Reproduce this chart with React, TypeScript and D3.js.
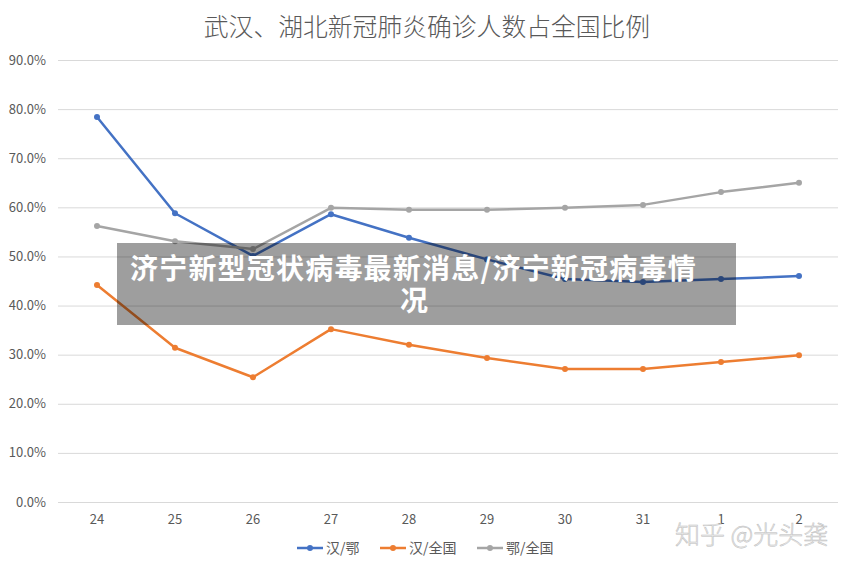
import React, { useRef, useEffect } from "react";
import * as d3 from "d3";

// x categories (dates, Jan 24 .. Feb 2)
const days = ["24", "25", "26", "27", "28", "29", "30", "31", "1", "2"];

// ratios in %
const wuhanHubei = [78.4, 58.8, 50.1, 58.6, 53.8, 49.4, 45.4, 44.8, 45.4, 46.0];
const wuhanChina = [44.2, 31.4, 25.4, 35.2, 32.0, 29.3, 27.1, 27.1, 28.5, 29.9];
const hubeiChina = [56.2, 53.1, 51.5, 59.9, 59.5, 59.5, 59.9, 60.5, 63.1, 65.0];

const yTicks = [0, 10, 20, 30, 40, 50, 60, 70, 80, 90];
const seriesNames = ["汉/鄂", "汉/全国", "鄂/全国"];
const colors = ["#4472C4", "#ED7D31", "#A5A5A5"];

const W = 854;
const H = 568;
const margin = { top: 60, right: 16, bottom: 66, left: 58 };
const font = "'Noto Sans CJK SC', 'Noto Sans', sans-serif";

function App() {
    const svgRef = useRef<SVGSVGElement>(null);

    useEffect(() => {
        const svg = d3.select(svgRef.current);
        svg.selectAll("*").remove();

        const x = d3.scaleBand()
            .domain(days)
            .range([margin.left, W - margin.right]);

        const y = d3.scaleLinear()
            .domain([0, 90])
            .range([H - margin.bottom, margin.top]);

        svg.append("rect").attr("width", W).attr("height", H).attr("fill", "#fff");

        // title
        svg.append("text")
            .attr("x", W / 2)
            .attr("y", 36)
            .attr("text-anchor", "middle")
            .attr("font-family", font)
            .attr("font-weight", 300)
            .attr("font-size", 24.8)
            .attr("fill", "#595959")
            .text("武汉、湖北新冠肺炎确诊人数占全国比例");

        // grid + y labels
        const grid = svg.append("g");
        grid.selectAll("line")
            .data(yTicks)
            .join("line")
            .attr("x1", margin.left)
            .attr("x2", W - margin.right)
            .attr("y1", d => y(d) + 0.5)
            .attr("y2", d => y(d) + 0.5)
            .attr("stroke", "#d9d9d9")
            .attr("stroke-width", 1);

        grid.selectAll("text")
            .data(yTicks)
            .join("text")
            .attr("x", 46)
            .attr("y", d => y(d) + 4.5)
            .attr("text-anchor", "end")
            .attr("font-family", font)
            .attr("font-size", 13)
            .attr("fill", "#595959")
            .text(d => d.toFixed(1) + "%");

        // x labels
        svg.append("g")
            .selectAll("text")
            .data(days)
            .join("text")
            .attr("x", d => (x(d) as number) + x.bandwidth() / 2)
            .attr("y", 524)
            .attr("text-anchor", "middle")
            .attr("font-family", font)
            .attr("font-size", 13)
            .attr("fill", "#595959")
            .text(d => d);

        // lines
        const allSeries = [wuhanHubei, wuhanChina, hubeiChina];
        const line = d3.line<number>()
            .x((_, i) => (x(days[i]) as number) + x.bandwidth() / 2)
            .y(d => y(d));

        allSeries.forEach((vals, si) => {
            const g = svg.append("g");
            g.append("path")
                .datum(vals)
                .attr("d", line)
                .attr("fill", "none")
                .attr("stroke", colors[si])
                .attr("stroke-width", 2.5)
                .attr("stroke-linejoin", "round");
            g.selectAll("circle")
                .data(vals)
                .join("circle")
                .attr("cx", (_, i) => (x(days[i]) as number) + x.bandwidth() / 2)
                .attr("cy", d => y(d))
                .attr("r", 3)
                .attr("fill", colors[si]);
        });

        // legend
        const legendX = [297, 380, 477];
        const legend = svg.append("g");
        seriesNames.forEach((name, i) => {
            const lg = legend.append("g").attr("transform", `translate(${legendX[i]},548)`);
            lg.append("line").attr("x1", 0).attr("x2", 26).attr("stroke", colors[i]).attr("stroke-width", 2.5);
            lg.append("circle").attr("cx", 13).attr("r", 3).attr("fill", colors[i]);
            lg.append("text")
                .attr("x", 29)
                .attr("y", 5)
                .attr("font-family", font)
                .attr("font-size", 14)
                .attr("fill", "#595959")
                .text(name);
        });

        // watermark
        svg.append("text")
            .attr("x", 675)
            .attr("y", 544)
            .attr("font-family", font)
            .attr("font-size", 25)
            .attr("font-weight", 300)
            .attr("fill", "#ececec")
            .attr("stroke", "#bdbdbd")
            .attr("stroke-width", 0.5)
            .text("知乎 @光头龚");

        // overlay banner
        svg.append("rect")
            .attr("x", 117)
            .attr("y", 243)
            .attr("width", 619)
            .attr("height", 82)
            .attr("fill", "rgba(0,0,0,0.38)");

        const bannerLines = ["济宁新型冠状病毒最新消息/济宁新冠病毒情", "况"];
        svg.append("g")
            .selectAll("text")
            .data(bannerLines)
            .join("text")
            .attr("x", (_, i) => (i === 0 ? 130 : 400))
            .attr("y", (_, i) => 279 + i * 32)
            .attr("font-family", font)
            .attr("font-weight", "bold")
            .attr("font-size", 28)
            .attr("letter-spacing", 1.2)
            .attr("fill", "#fff")
            .text(d => d);
    }, []);

    return (
        <svg
            ref={svgRef}
            width={W}
            height={H}
            style={{ position: "absolute", left: 0, top: 0, display: "block" }}
        ></svg>
    );
}

export default App;
